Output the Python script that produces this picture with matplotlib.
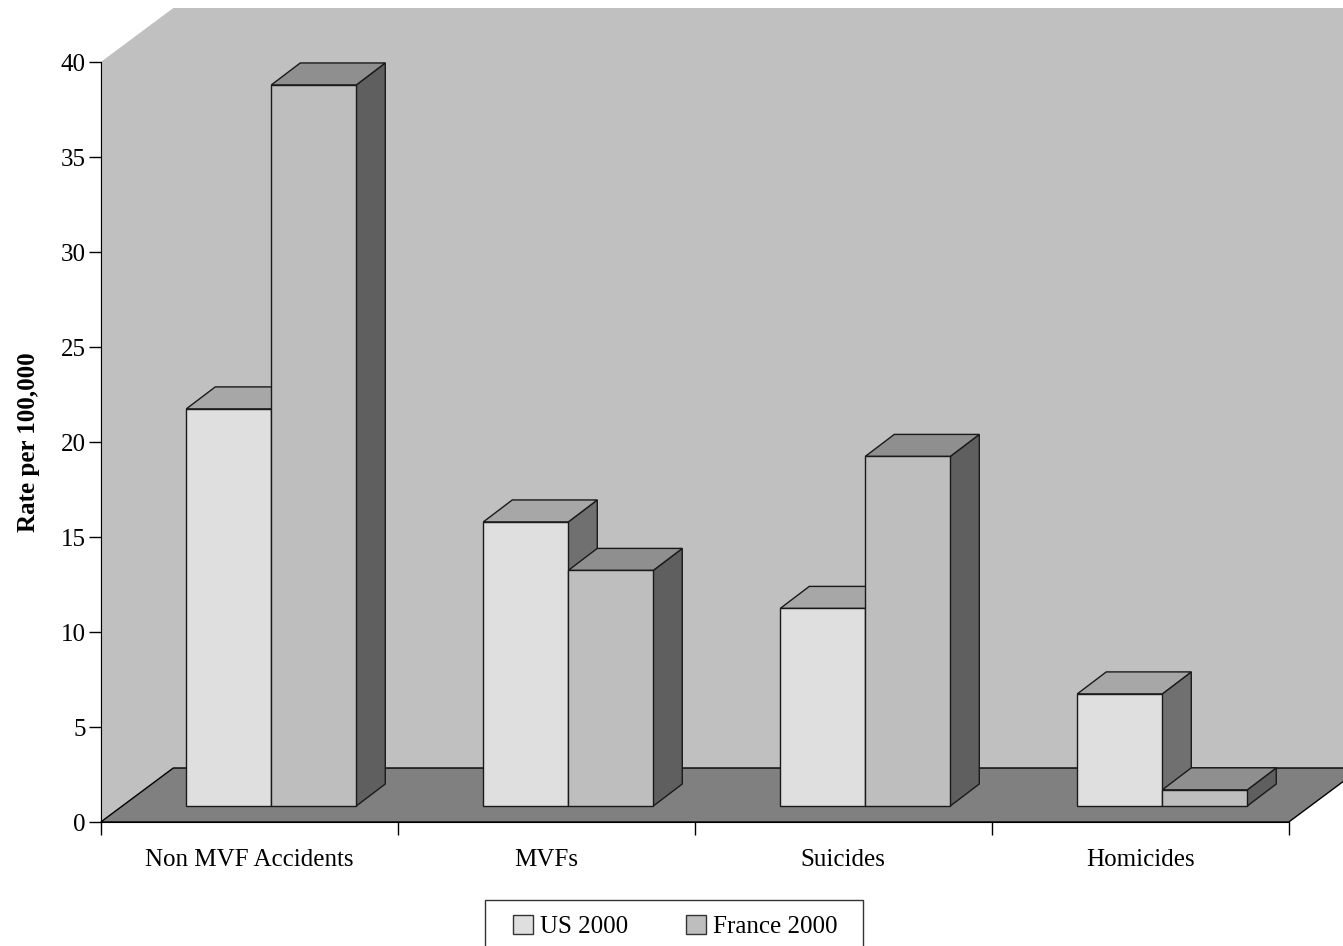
import matplotlib
matplotlib.use('Agg')
import matplotlib.pyplot as plt
from matplotlib.patches import Polygon, Rectangle

plt.rcParams['font.family'] = ['Liberation Serif', 'DejaVu Serif']

categories = ['Non MVF Accidents', 'MVFs', 'Suicides', 'Homicides']
series_names = ['US 2000', 'France 2000']
us_2000 = [20.9, 14.95, 10.4, 5.9]
france_2000 = [37.95, 12.4, 18.4, 0.85]
y_ticks = [0, 5, 10, 15, 20, 25, 30, 35, 40]

# pixel scale of the plot: one category is 297 px, one rate unit 19 px
px_x = 297.0
px_y = 19.0
W, H = 1343, 946
x0, y0 = 100.8, 822.0

# fake 3D offsets in data units
wall_dx, wall_dy = 72.5 / px_x, 54 / px_y
bar_dx, bar_dy = 29 / px_x, 22 / px_y
base = 16 / px_y
bar_w = 85 / px_x
group_shift = 0.574

FRONT = ['#dfdfdf', '#bebebe']
TOP = ['#a7a7a7', '#8f8f8f']
SIDE = ['#707070', '#5f5f5f']
EDGE = '#1a1a1a'

fig = plt.figure(figsize=(W / 100, H / 100), dpi=100)
ax = fig.add_axes([0, 0, 1, 1])
ax.set_xlim(-x0 / px_x, (W - x0) / px_x)
ax.set_ylim((y0 - H) / px_y, y0 / px_y)
ax.patch.set_visible(False)

# back wall and floor
ax.add_patch(Polygon([(0, 0), (wall_dx, wall_dy), (wall_dx, 40 + wall_dy), (0, 40)],
                     fc='#c0c0c0', ec='none', zorder=1))
ax.add_patch(Rectangle((wall_dx, wall_dy), 5, 40, fc='#c0c0c0', ec='none', zorder=1))
ax.add_patch(Polygon([(0, 0), (4, 0), (4 + wall_dx, wall_dy), (wall_dx, wall_dy)],
                     fc='#808080', ec='black', lw=1, zorder=2))


def draw_bar(left, height, idx, z):
    right = left + bar_w
    top = base + height
    ax.add_patch(Polygon([(right, base), (right + bar_dx, base + bar_dy),
                          (right + bar_dx, top + bar_dy), (right, top)],
                         fc=SIDE[idx], ec=EDGE, lw=1, zorder=z))
    ax.add_patch(Polygon([(left, top), (right, top), (right + bar_dx, top + bar_dy),
                          (left + bar_dx, top + bar_dy)],
                         fc=TOP[idx], ec=EDGE, lw=1, zorder=z))
    ax.add_patch(Rectangle((left, base), bar_w, height, fc=FRONT[idx], ec=EDGE, lw=1, zorder=z))


for i in range(len(categories)):
    draw_bar(i + group_shift - bar_w, us_2000[i], 0, 3 + i)
    draw_bar(i + group_shift, france_2000[i], 1, 3.5 + i)

# axes
for side in ['top', 'right']:
    ax.spines[side].set_visible(False)
ax.spines['left'].set_position(('data', 0))
ax.spines['bottom'].set_position(('data', 0))
ax.spines['left'].set_bounds(0, 40)
ax.spines['bottom'].set_bounds(0, 4)
ax.spines['left'].set_zorder(10)
ax.spines['bottom'].set_zorder(10)

ax.set_yticks(y_ticks)
ax.set_xticks(range(len(categories) + 1))
ax.set_xticklabels([])
ax.set_xticks([i + 0.5 for i in range(len(categories))], minor=True)
ax.set_xticklabels(categories, minor=True, fontsize=18)
ax.tick_params(axis='x', which='major', direction='out', length=9, width=1)
ax.tick_params(axis='x', which='minor', length=0, pad=19.5)
ax.tick_params(axis='y', direction='out', length=9, width=1, labelsize=18, pad=2)

ax.text(-72 / px_x, (y0 - 442) / px_y, 'Rate per 100,000', rotation=90, ha='center', va='center',
        fontsize=18, fontweight='bold')

# legend box runs off the bottom of the figure
ax.add_patch(Rectangle(((485 - x0) / px_x, (y0 - 960) / px_y), 378 / px_x, 60 / px_y,
                       fc='white', ec='#333333', lw=1, zorder=11))
handles = [Rectangle((0, 0), 1, 1, fc=FRONT[k], ec='#333333', lw=1) for k in range(2)]
leg = ax.legend(handles, series_names, loc='center', frameon=False, ncol=2, fontsize=18,
                bbox_to_anchor=(675.5 / W, 1 - 926.5 / H), handlelength=0.8, handleheight=0.8,
                handletextpad=0.28, columnspacing=2.3, borderpad=0, borderaxespad=0)
leg.set_zorder(12)

fig.savefig('out.png', dpi=100)
